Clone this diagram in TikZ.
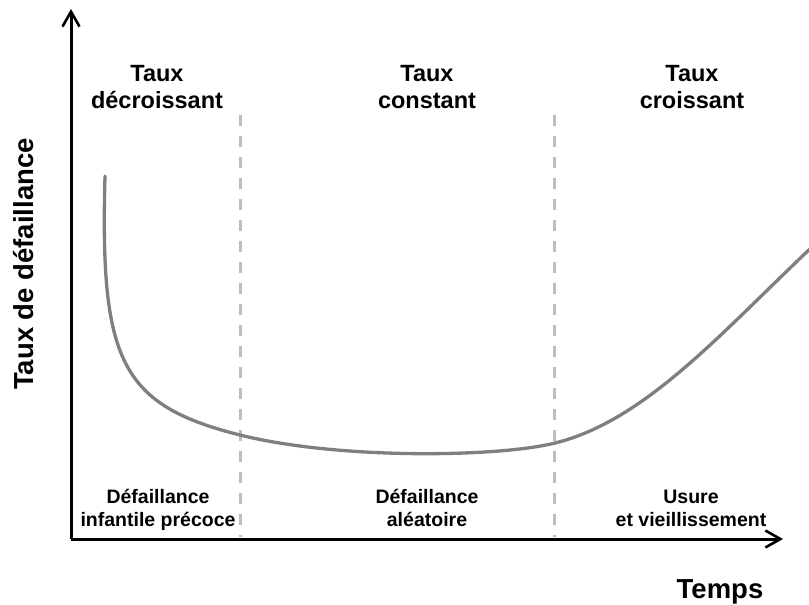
\documentclass[tikz,border=0pt]{standalone}
\usepackage{fontspec}
\setmainfont{Liberation Sans}
\usetikzlibrary{arrows.meta}
\definecolor{curvegray}{HTML}{7F7F7F}
\definecolor{dashgray}{HTML}{BEBEBE}
\begin{document}
\begin{tikzpicture}[x=1pt,y=-1pt,
  axis/.style={line width=3pt, black, -{Straight Barb[length=15pt,width=17pt,line width=2.6pt]}},
  sep/.style={line width=3pt, dashgray, dash pattern=on 11pt off 10pt},
  curve/.style={line width=3.3pt, curvegray, line cap=round},
  toplabel/.style={font=\bfseries\fontsize{23.5}{26.5}\selectfont, align=center, anchor=base, inner sep=0pt},
  botlabel/.style={font=\bfseries\fontsize{19.5}{23}\selectfont, align=center, anchor=base, inner sep=0pt},
  axlabel/.style={font=\bfseries\fontsize{27.5}{32}\selectfont, inner sep=0pt}]
\useasboundingbox (0,0) rectangle (809,605);
\coordinate (O) at (71,539);
\coordinate (ytip) at (71,9);
\coordinate (xtip) at (783,539);
\draw[axis] (O) -- (ytip);
\draw[axis] (O) -- (xtip);
\coordinate (s1t) at (240,115);
\coordinate (s1b) at (240,537);
\coordinate (s2t) at (554,115);
\coordinate (s2b) at (554,537);
\draw[sep] (s1t) -- (s1b);
\draw[sep] (s2t) -- (s2b);
\coordinate (c0) at (105,176);
\coordinate (c1) at (240,435);
\coordinate (c2) at (555,443);
\coordinate (c3) at (812,247);
\draw[curve] (c0) .. controls (100,360) and (120,405) .. (c1)
  .. controls (340,460) and (500,457) .. (c2)
  .. controls (645,421) and (722,332) .. (c3);
\node[toplabel] (t1) at (157,108) {Taux\\décroissant};
\node[toplabel] (t2) at (427,108) {Taux\\constant};
\node[toplabel] (t3) at (692,108) {Taux\\croissant};
\node[botlabel] (b1) at (158,526) {Défaillance\\infantile précoce};
\node[botlabel] (b2) at (427,526) {Défaillance\\aléatoire};
\node[botlabel] (b3) at (691,526) {Usure\\et vieillissement};
\node[axlabel, anchor=base] (xl) at (720,598) {Temps};
\node[axlabel, rotate=90] (yl) at (24,264) {Taux de défaillance};
\end{tikzpicture}
\end{document}
